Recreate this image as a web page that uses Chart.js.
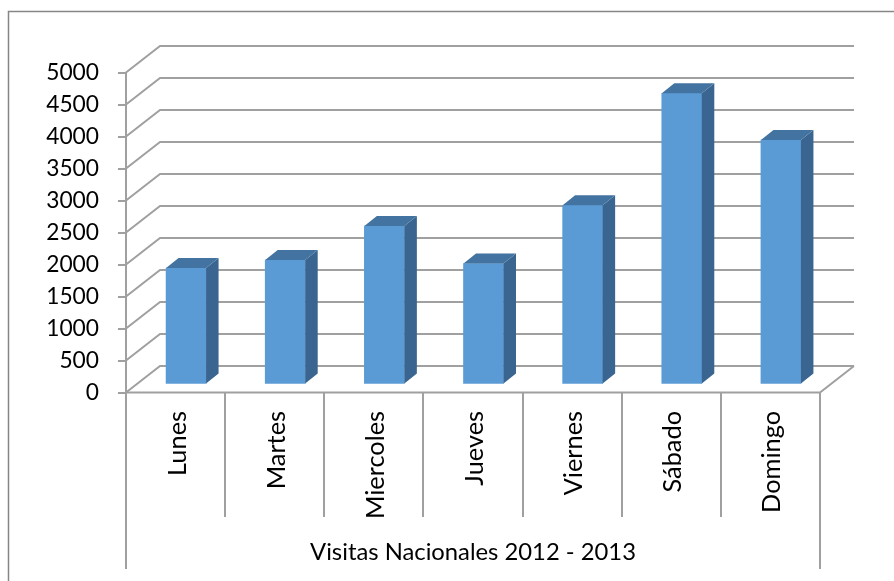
<!DOCTYPE html>
<html>
<head>
<meta charset="utf-8">
<title>Visitas Nacionales 2012 - 2013</title>
<script src="https://cdn.jsdelivr.net/npm/chart.js@4"></script>
<style>
  html, body { margin: 0; padding: 0; background: #fff; }
  #wrap { width: 894px; height: 581px; }
</style>
</head>
<body>
<div id="wrap"><canvas id="visitas-chart" width="894" height="581"></canvas></div>
<script>
// Datos
const categories = ["Lunes", "Martes", "Miercoles", "Jueves", "Viernes", "Sábado", "Domingo"];
const visitas = [1820, 1945, 2475, 1890, 2800, 4550, 3820];
const yTickValues = [0, 500, 1000, 1500, 2000, 2500, 3000, 3500, 4000, 4500, 5000];
const groupLabel = "Visitas Nacionales 2012 - 2013";

// Estilo 3D (perspectiva de Excel)
const WALL_DX = 34, WALL_DY = -26.5;
const BAR_SHIFT_X = 10.5, BAR_SHIFT_Y = -8;
const BAR_DEPTH_X = 12.5, BAR_DEPTH_Y = -10;
const GRID_COLOR = "#a0a0a0";
const FRONT_COLOR = "#5b9bd5";
const SIDE_COLOR = "#3a6590";
const TOP_COLOR = "#4373a0";
const FONT = "Lato";

// tamaño de letra ajustado al ancho del texto en la imagen
function fitSize(text, inkWidth) {
  const m = document.createElement("canvas").getContext("2d");
  m.font = `100px ${FONT}`;
  const t = m.measureText(text);
  return (100 * inkWidth) / (t.actualBoundingBoxLeft + t.actualBoundingBoxRight);
}
const tickSize = fitSize("5000", 51);
const catSize = fitSize("Miercoles", 105);
const groupSize = fitSize(groupLabel, 325);

Chart.defaults.font.family = FONT;
Chart.defaults.color = "#000";

const excel3d = {
  id: "excel3d",
  beforeDraw(chart) {
    const ctx = chart.ctx;
    ctx.save();
    ctx.strokeStyle = "#868686";
    ctx.lineWidth = 1.5;
    ctx.beginPath();
    ctx.moveTo(8.5, 581);
    ctx.lineTo(8.5, 11.5);
    ctx.lineTo(894, 11.5);
    ctx.stroke();
    ctx.restore();
  },
  beforeDatasetsDraw(chart) {
    const { ctx, chartArea: a, scales: { y } } = chart;
    ctx.save();
    ctx.strokeStyle = GRID_COLOR;
    ctx.lineWidth = 2;
    y.ticks.forEach((t) => {
      const py = y.getPixelForValue(t.value);
      ctx.beginPath();
      ctx.moveTo(a.left, py);
      ctx.lineTo(a.left + WALL_DX, py + WALL_DY);
      ctx.lineTo(a.right + WALL_DX, py + WALL_DY);
      ctx.stroke();
    });
    // borde del suelo
    ctx.beginPath();
    ctx.moveTo(a.left, a.bottom);
    ctx.lineTo(a.right, a.bottom);
    ctx.lineTo(a.right + WALL_DX, a.bottom + WALL_DY);
    ctx.stroke();
    ctx.restore();

    ctx.save();
    ctx.translate(BAR_SHIFT_X, BAR_SHIFT_Y);
  },
  afterDatasetsDraw(chart) {
    const { ctx, chartArea: a, scales: { x } } = chart;
    chart.getDatasetMeta(0).data.forEach((bar) => {
      const x0 = bar.x - bar.width / 2;
      const x1 = bar.x + bar.width / 2;
      ctx.fillStyle = SIDE_COLOR;
      ctx.beginPath();
      ctx.moveTo(x1, bar.y);
      ctx.lineTo(x1 + BAR_DEPTH_X, bar.y + BAR_DEPTH_Y);
      ctx.lineTo(x1 + BAR_DEPTH_X, bar.base + BAR_DEPTH_Y);
      ctx.lineTo(x1, bar.base);
      ctx.closePath();
      ctx.fill();
      ctx.fillStyle = TOP_COLOR;
      ctx.beginPath();
      ctx.moveTo(x0, bar.y);
      ctx.lineTo(x0 + BAR_DEPTH_X, bar.y + BAR_DEPTH_Y);
      ctx.lineTo(x1 + BAR_DEPTH_X, bar.y + BAR_DEPTH_Y);
      ctx.lineTo(x1, bar.y);
      ctx.closePath();
      ctx.fill();
    });
    ctx.restore();

    // eje de categorias: separadores, etiquetas y grupo
    const band = (a.right - a.left) / categories.length;
    ctx.save();
    ctx.strokeStyle = GRID_COLOR;
    ctx.lineWidth = 2;
    for (let k = 0; k <= categories.length; k++) {
      const px = Math.round(a.left + k * band);
      const end = k === 0 || k === categories.length ? 569 : 517;
      ctx.beginPath();
      ctx.moveTo(px, a.bottom);
      ctx.lineTo(px, end);
      ctx.stroke();
    }
    ctx.fillStyle = "#000";
    ctx.font = `${catSize}px ${FONT}`;
    ctx.textAlign = "right";
    ctx.textBaseline = "alphabetic";
    categories.forEach((label, i) => {
      ctx.save();
      ctx.translate(x.getPixelForValue(i) + 10, 411);
      ctx.rotate(-Math.PI / 2);
      ctx.fillText(label, 0, 0);
      ctx.restore();
    });
    ctx.font = `${groupSize}px ${FONT}`;
    ctx.textAlign = "center";
    ctx.fillText(groupLabel, (a.left + a.right) / 2, 560);
    ctx.restore();
  },
};

new Chart(document.getElementById("visitas-chart"), {
  type: "bar",
  data: {
    labels: categories,
    datasets: [
      {
        label: groupLabel,
        data: visitas,
        backgroundColor: FRONT_COLOR,
        barThickness: 40,
        clip: false,
      },
    ],
  },
  options: {
    responsive: false,
    animation: false,
    events: [],
    layout: { padding: { top: 72.5, right: 74, bottom: 188.5, left: 0 } },
    plugins: { legend: { display: false }, tooltip: { enabled: false } },
    scales: {
      x: { display: false },
      y: {
        min: 0,
        max: 5000,
        afterFit: (s) => { s.width = 126; },
        afterBuildTicks: (s) => { s.ticks = yTickValues.map((value) => ({ value })); },
        ticks: { padding: 19, font: { size: tickSize }, callback: (v) => String(v) },
        grid: { drawOnChartArea: false, drawTicks: true, tickLength: 8, color: GRID_COLOR, lineWidth: 2 },
        border: { display: true, color: GRID_COLOR, width: 2 },
      },
    },
  },
  plugins: [excel3d],
});
</script>
</body>
</html>
